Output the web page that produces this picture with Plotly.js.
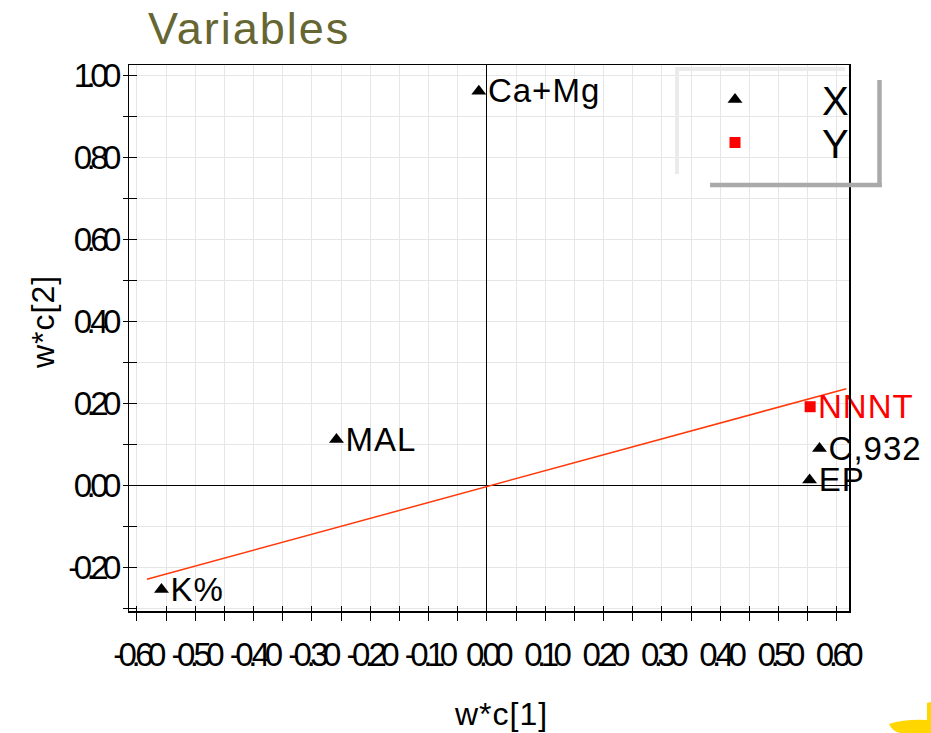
<!DOCTYPE html>
<html>
<head>
<meta charset="utf-8">
<script src="https://cdn.plot.ly/plotly-3.0.1.min.js"></script>
<style>
  html, body { margin: 0; padding: 0; background: #fff; }
  #chart { width: 931px; height: 733px; }
  /* tight, condensed tick numbers */
  .xtick text, .ytick text { letter-spacing: -5.5px; }
  /* slightly wider lettering for labels and titles; point labels sit a bit low */
  .textpoint text { letter-spacing: 1px; transform: translate(0px, 3px); }
  .annotation-text { letter-spacing: 1px; }
  .gtitle { letter-spacing: 2px; }
</style>
</head>
<body>
<div id="chart"></div>
<script>
// Loadings w*c[1] / w*c[2] for the X variables
const xVarNames = ['K%', 'MAL', 'Ca+Mg', 'C,932', 'EP'];
const xVarWC1 = [-0.558, -0.258, -0.014, 0.570, 0.553];
const xVarWC2 = [-0.254, 0.112, 0.962, 0.090, 0.013];

// Loadings for the Y variable
const yVarNames = ['NNNT'];
const yVarWC1 = [0.554];
const yVarWC2 = [0.192];

// Line through the origin along the Y direction
const fitWC1 = [-0.583, 0.616];
const fitWC2 = [-0.229, 0.236];

// Axis tick labels
const xTickLabels = ['-0.60', '-0.50', '-0.40', '-0.30', '-0.20', '-0.10', '0.00',
                     '0.10', '0.20', '0.30', '0.40', '0.50', '0.60'];
const yTickLabels = ['-0.20', '0.00', '0.20', '0.40', '0.60', '0.80', '1.00'];

const FONT = 'Liberation Sans, Arial, Helvetica, sans-serif';
const M = { l: 129, r: 82, t: 65, b: 122 };
const W = 931, H = 733;
const PW = W - M.l - M.r, PH = H - M.t - M.b;
// pixel -> paper helpers for decoration placement
const px = X => (X - M.l) / PW;
const py = Y => (H - M.b - Y) / PH;

const xRange = [-0.6137, 0.6206];
const yRange = [-0.3066, 1.026];
const xTickVals = xTickLabels.map(Number);
const yTickVals = yTickLabels.map(Number);

const traces = [
  {
    x: fitWC1, y: fitWC2, mode: 'lines', type: 'scatter',
    line: { color: '#ff3a0a', width: 1.5 },
    showlegend: false, hoverinfo: 'skip'
  },
  {
    name: 'X', x: xVarWC1, y: xVarWC2, text: xVarNames,
    mode: 'markers+text', type: 'scatter', textposition: 'middle right',
    cliponaxis: false, legend: 'legend',
    marker: { symbol: 'triangle-up', size: 13, color: '#000' },
    textfont: { family: FONT, size: 33, color: '#000' }
  },
  {
    name: 'Y', x: yVarWC1, y: yVarWC2, text: yVarNames,
    mode: 'markers+text', type: 'scatter', textposition: 'middle right',
    cliponaxis: false, legend: 'legend2',
    marker: { symbol: 'square', size: 11, color: '#ff0000' },
    textfont: { family: FONT, size: 33, color: '#ff0000' }
  },
  // carrier for the inner tick marks
  { x: [], y: [], xaxis: 'x2', yaxis: 'y2', type: 'scatter', mode: 'markers',
    showlegend: false, hoverinfo: 'skip' }
];

const gridColor = '#e6e6e6';
const legendCommon = {
  xanchor: 'left', yanchor: 'top',
  bgcolor: 'rgba(0,0,0,0)', borderwidth: 0,
  itemwidth: 164, itemsizing: 'trace',
  font: { family: FONT, size: 40, color: '#000' },
  itemclick: false, itemdoubleclick: false
};

const layout = {
  width: W, height: H,
  margin: M,
  paper_bgcolor: '#fff', plot_bgcolor: '#fff',
  font: { family: FONT, color: '#000' },
  showlegend: true,
  title: {
    text: 'Variables',
    font: { family: FONT, size: 45, color: '#666633' },
    xref: 'container', yref: 'container',
    x: 148 / W, xanchor: 'left',
    y: 1 - 28 / H, yanchor: 'middle'
  },
  xaxis: {
    range: xRange, fixedrange: true,
    tickmode: 'array', tickvals: xTickVals, ticktext: xTickLabels,
    tickangle: 0,
    ticks: 'outside', ticklen: 8, tickwidth: 1, tickcolor: '#000',
    ticklabelstandoff: 6,
    tickfont: { family: FONT, size: 33, color: '#000' },
    showgrid: true, gridcolor: gridColor, gridwidth: 1,
    minor: { tickmode: 'linear', tick0: 0, dtick: 0.05, ticks: 'outside', ticklen: 8,
             tickcolor: '#000', showgrid: true, gridcolor: gridColor, gridwidth: 1 },
    zeroline: true, zerolinecolor: '#000', zerolinewidth: 1,
    showline: true, linecolor: '#000', linewidth: 1.5, mirror: true
  },
  yaxis: {
    range: yRange, fixedrange: true,
    tickmode: 'array', tickvals: yTickVals, ticktext: yTickLabels,
    ticks: 'outside', ticklen: 5, tickwidth: 1, tickcolor: '#000',
    tickfont: { family: FONT, size: 33, color: '#000' },
    showgrid: true, gridcolor: gridColor, gridwidth: 1,
    minor: { tickmode: 'linear', tick0: 0, dtick: 0.1, ticks: 'outside', ticklen: 5,
             tickcolor: '#000', showgrid: true, gridcolor: gridColor, gridwidth: 1 },
    zeroline: true, zerolinecolor: '#000', zerolinewidth: 1,
    showline: true, linecolor: '#000', linewidth: 1.5, mirror: true
  },
  xaxis2: {
    overlaying: 'x', anchor: 'y2', range: xRange, fixedrange: true,
    tickmode: 'array', tickvals: xTickVals, showticklabels: false,
    ticks: 'inside', ticklen: 5, tickcolor: '#000',
    minor: { tickmode: 'linear', tick0: 0, dtick: 0.05, ticks: 'inside', ticklen: 5,
             tickcolor: '#000', showgrid: false },
    showgrid: false, zeroline: false, showline: false
  },
  yaxis2: {
    overlaying: 'y', anchor: 'x2', range: yRange, fixedrange: true,
    tickmode: 'array', tickvals: yTickVals, showticklabels: false,
    ticks: 'inside', ticklen: 8, tickcolor: '#000',
    minor: { tickmode: 'linear', tick0: 0, dtick: 0.1, ticks: 'inside', ticklen: 8,
             tickcolor: '#000', showgrid: false },
    showgrid: false, zeroline: false, showline: false
  },
  legend: Object.assign({ x: px(648), y: py(67) }, legendCommon),
  legend2: Object.assign({ x: px(648), y: py(110) }, legendCommon),
  annotations: [
    { text: 'w*c[1]', xref: 'paper', yref: 'paper', x: px(501), y: py(714),
      xanchor: 'center', yanchor: 'middle', showarrow: false,
      font: { family: FONT, size: 32, color: '#000' } },
    { text: 'w*c[2]', xref: 'paper', yref: 'paper', x: px(43), y: py(322),
      xanchor: 'center', yanchor: 'middle', showarrow: false, textangle: -90,
      font: { family: FONT, size: 32, color: '#000' } }
  ],
  shapes: [
    // legend frame: light upper/left bevel
    { type: 'line', xref: 'paper', yref: 'paper', x0: px(675), x1: px(845), y0: py(69), y1: py(69),
      line: { color: '#ebebeb', width: 4 } },
    { type: 'line', xref: 'paper', yref: 'paper', x0: px(677), x1: px(677), y0: py(67), y1: py(174),
      line: { color: '#ebebeb', width: 4 } },
    // legend frame: dark lower/right bevel
    { type: 'line', xref: 'paper', yref: 'paper', x0: px(879.5), x1: px(879.5), y0: py(80), y1: py(187),
      line: { color: '#aaaaaa', width: 4.5 } },
    { type: 'line', xref: 'paper', yref: 'paper', x0: px(710), x1: px(882), y0: py(185), y1: py(185),
      line: { color: '#aaaaaa', width: 4.5 } },
    // corner swoosh
    { type: 'path', xref: 'paper', yref: 'paper', layer: 'above',
      path: 'M ' + px(889) + ',' + py(724) +
            ' Q ' + px(905) + ',' + py(719) + ' ' + px(927) + ',' + py(720) +
            ' L ' + px(927) + ',' + py(703) +
            ' L ' + px(931) + ',' + py(702) +
            ' L ' + px(931) + ',' + py(733) +
            ' L ' + px(900) + ',' + py(733) +
            ' Q ' + px(892) + ',' + py(731) + ' ' + px(889) + ',' + py(724) + ' Z',
      fillcolor: '#ffd600', line: { width: 0 } }
  ]
};

Plotly.newPlot('chart', traces, layout, { staticPlot: true, displayModeBar: false });
</script>
</body>
</html>
